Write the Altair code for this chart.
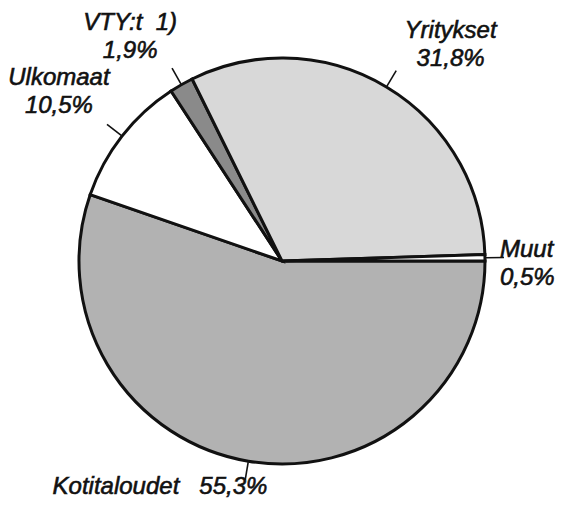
import math
import altair as alt
import pandas as pd

# ---- data ----
categories = ["Kotitaloudet", "Ulkomaat", "VTY:t\u00a0\u00a01)", "Yritykset", "Muut"]
shares = [55.3, 10.5, 1.9, 31.8, 0.5]
share_labels = ["55,3%", "10,5%", "1,9%", "31,8%", "0,5%"]

# ---- styles ----
fills = ["#b2b2b2", "#ffffff", "#8a8a8a", "#d8d8d8", "#ffffff"]
# per label: align, dx, dy, separator between name and share
label_layout = {
    "Kotitaloudet": ("left", -188, -14, "\u00a0\u00a0\u00a0"),
    "Ulkomaat": ("center", -26, -22, "\n"),
    "VTY:t\u00a0\u00a01)": ("center", -28, -14, "\n"),
    "Yritykset": ("center", 40, -9, "\n"),
    "Muut": ("left", -32, 0, "\n"),
}

W, H = 549, 492
CX, CY = 274, 253          # pie centre in view coordinates
R = 203                    # pie radius
R1, R2 = 204, 222          # leader line radii
RL = 250                   # label anchor radius
START = math.pi / 2        # first slice starts at 3 o'clock

df = pd.DataFrame({
    "cat": categories,
    "share": shares,
    "pct": share_labels,
    "order": list(range(len(categories))),
})
df["label"] = [c + label_layout[c][3] + p for c, p in zip(categories, share_labels)]

theta = alt.Theta(
    "share:Q", stack=True,
    scale=alt.Scale(range=[START, START + 2 * math.pi]),
)
color = alt.Color("cat:N", scale=alt.Scale(domain=categories, range=fills), legend=None)

arcs = alt.Chart(df).mark_arc(
    outerRadius=R, stroke="#111111", strokeWidth=3, strokeJoin="miter"
).encode(
    theta=theta,
    color=color,
    order=alt.Order("order:Q"),
    x=alt.value(CX),
    y=alt.value(CY),
)

base = alt.Chart(df).transform_window(
    cum="sum(share)", sort=[alt.SortField("order")]
).transform_joinaggregate(
    total="sum(share)"
).transform_calculate(
    a=f"{START} + 2*PI*(datum.cum - datum.share/2)/datum.total"
).transform_calculate(
    lx1=f"{CX} + {R1}*sin(datum.a)",
    ly1=f"{CY} - {R1}*cos(datum.a)",
    lx2=f"{CX} + {R2}*sin(datum.a)",
    ly2=f"{CY} - {R2}*cos(datum.a)",
    tx=f"{CX} + {RL}*sin(datum.a)",
    ty=f"{CY} - {RL}*cos(datum.a)",
)

rules = base.mark_rule(color="#111111", strokeWidth=1.6).encode(
    x=alt.X("lx1:Q", scale=None, axis=None),
    y=alt.Y("ly1:Q", scale=None, axis=None),
    x2="lx2:Q",
    y2="ly2:Q",
)

texts = []
for c in categories:
    align, dx, dy, _ = label_layout[c]
    texts.append(
        base.transform_filter(alt.datum.cat == c).mark_text(
            align=align, baseline="alphabetic", dx=dx, dy=dy,
            font="Liberation Sans", fontStyle="italic", fontSize=24,
            lineBreak="\n", lineHeight=28, color="#111111",
            stroke="#111111", strokeWidth=0.6,
        ).encode(
            x=alt.X("tx:Q", scale=None, axis=None),
            y=alt.Y("ty:Q", scale=None, axis=None),
            text="label:N",
        )
    )

chart = alt.layer(arcs, rules, *texts).properties(
    width=W, height=H, autosize="none", padding=0, background="white"
).configure_view(stroke=None)

chart.save("out.html", embed_options={"renderer": "svg", "actions": False})
